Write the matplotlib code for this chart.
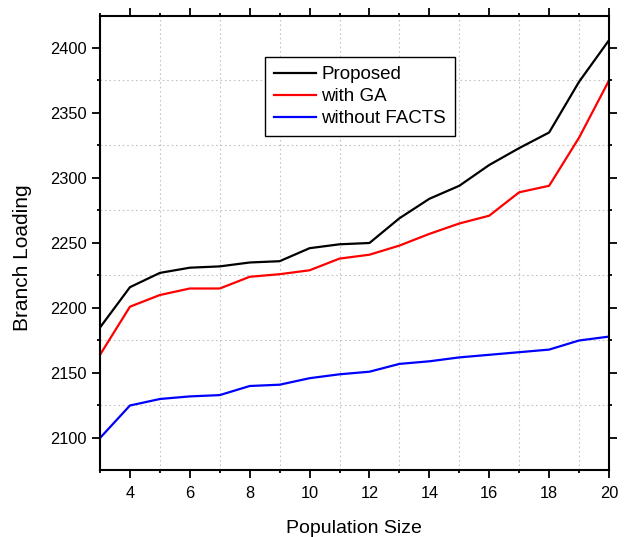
import matplotlib
matplotlib.use("Agg")
import matplotlib.pyplot as plt
from matplotlib.ticker import MultipleLocator

plt.rcParams['font.family'] = ['Liberation Sans', 'DejaVu Sans']

x = list(range(3, 21))
proposed = [2185, 2216, 2227, 2231, 2232, 2235, 2236, 2246, 2249, 2250, 2269, 2284, 2294, 2310, 2323, 2335, 2374, 2406]
with_ga = [2164, 2201, 2210, 2215, 2215, 2224, 2226, 2229, 2238, 2241, 2248, 2257, 2265, 2271, 2289, 2294, 2331, 2375]
without_facts = [2100, 2125, 2130, 2132, 2133, 2140, 2141, 2146, 2149, 2151, 2157, 2159, 2162, 2164, 2166, 2168, 2175, 2178]
labels = ["Proposed", "with GA", "without FACTS"]
colors = ["#000000", "#ff0000", "#0000ff"]

fig = plt.figure(figsize=(6.25, 5.37), dpi=100)
ax = fig.add_axes([0.16, 0.1248, 0.8144, 0.8454])

for ys, lab, c in zip([proposed, with_ga, without_facts], labels, colors):
    ax.plot(x, ys, color=c, lw=1.6, label=lab)

ax.set_xlim(3, 20)
ax.set_ylim(2075.4, 2424.6)
ax.xaxis.set_major_locator(MultipleLocator(2))
ax.xaxis.set_minor_locator(MultipleLocator(1))
ax.yaxis.set_major_locator(MultipleLocator(50))
ax.yaxis.set_minor_locator(MultipleLocator(25))

ax.grid(False, which='major')
ax.grid(True, which='minor', color='#c4c4c4', linestyle=(0, (1.5, 2.5)), lw=0.8)

ax.tick_params(which='both', direction='out', top=True, right=True, width=1.3, labelsize=11.8)
ax.tick_params(which='major', length=5.8)
ax.tick_params(which='minor', length=2.4)
ax.tick_params(axis='x', which='major', pad=6)
for s in ax.spines.values():
    s.set_linewidth(1.5)

fig.text(23 / 625, 1 - 258 / 537, "Branch Loading", rotation=90, ha='center', va='center',
         fontsize=15)
fig.text(354 / 625, 1 - 533 / 537, "Population Size", ha='center', va='baseline', fontsize=14)

leg = ax.legend(loc='upper left', bbox_to_anchor=(0.324, 0.9097), fontsize=13.5,
                frameon=True, fancybox=False, edgecolor='black', framealpha=1,
                handlelength=2.2, handletextpad=0.3, labelspacing=0.25, borderpad=0.5,
                borderaxespad=0)
leg.get_frame().set_linewidth(1.0)

fig.savefig("out.png", dpi=100)
